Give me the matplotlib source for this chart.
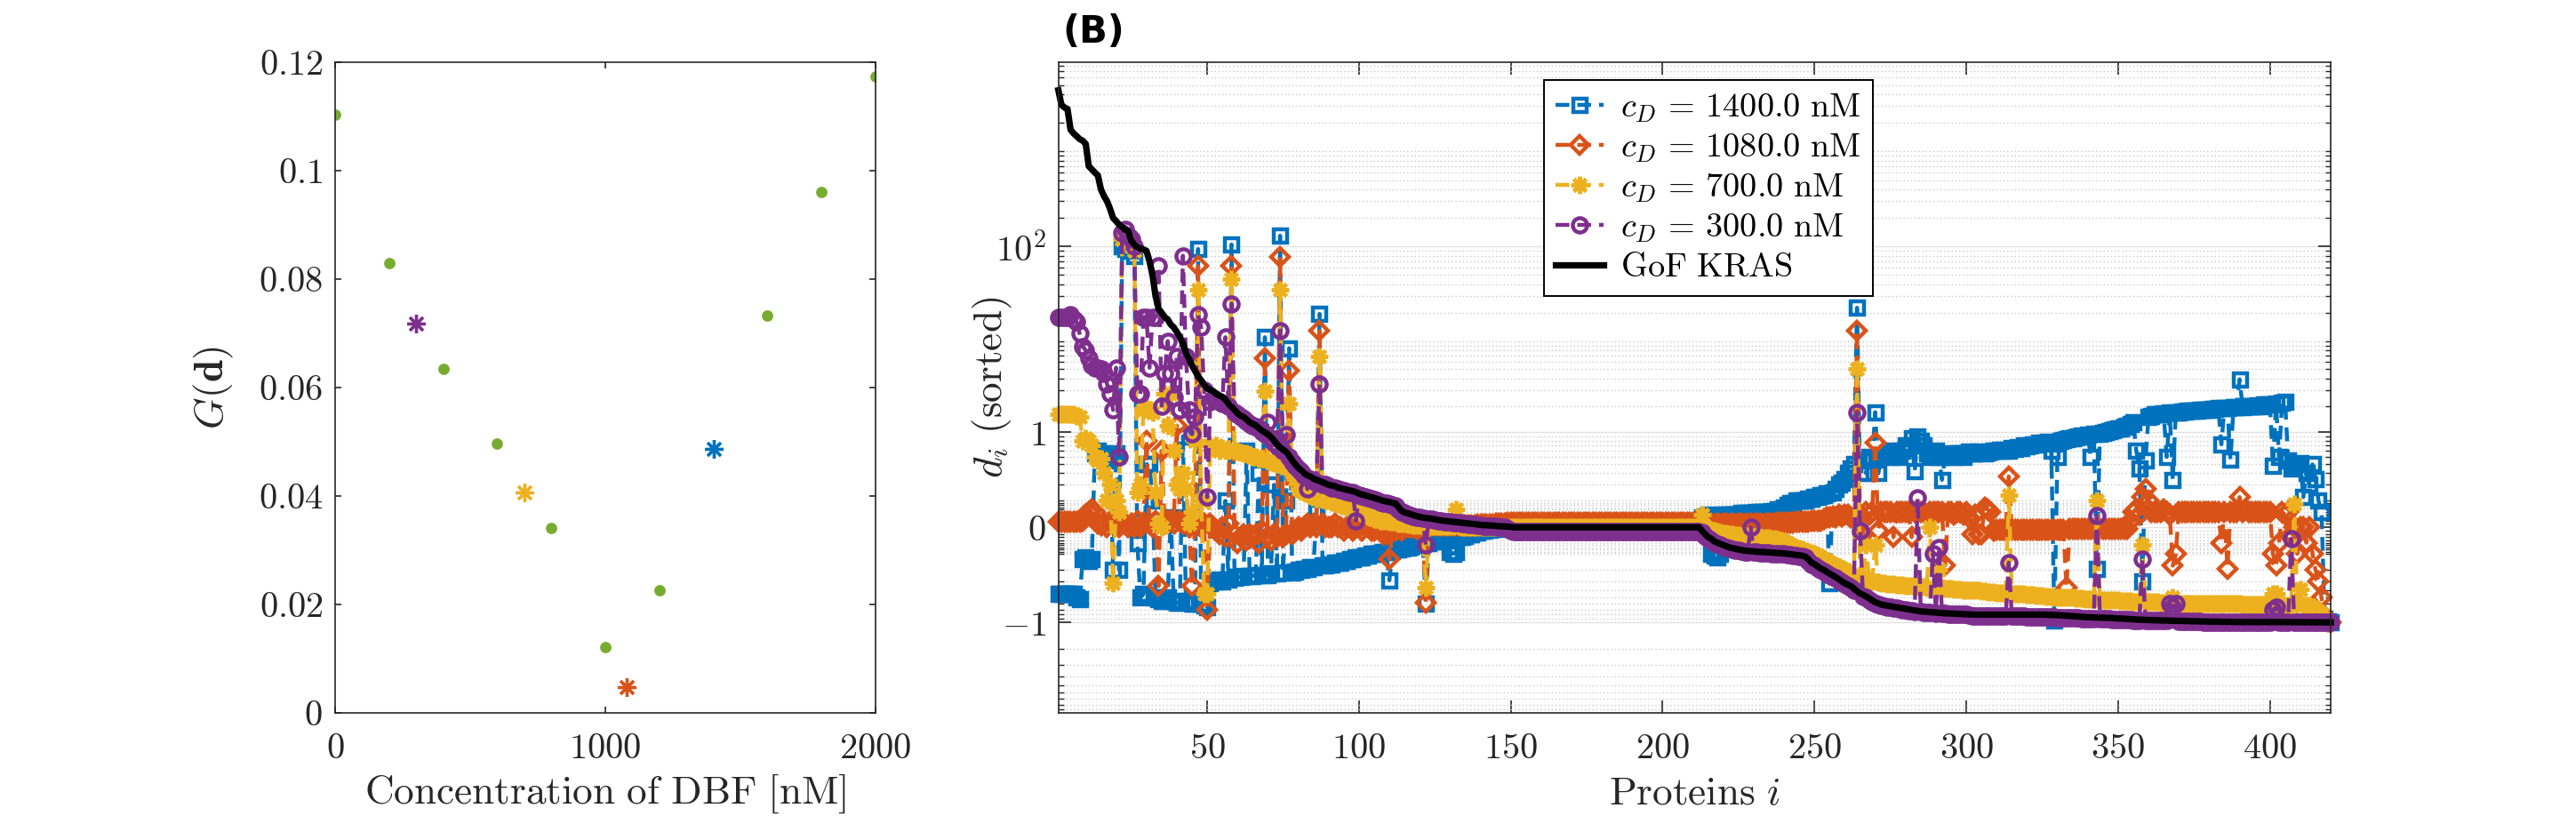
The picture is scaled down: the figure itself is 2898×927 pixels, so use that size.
import numpy as np
import matplotlib
matplotlib.use("Agg")
import matplotlib.pyplot as plt
from matplotlib.ticker import FixedLocator, NullFormatter

plt.rcParams['mathtext.fontset'] = 'cm'
plt.rcParams['font.family'] = ['DejaVu Serif']

# ---------------- data: panel A ----------------
conc_green = [0, 200, 400, 600, 800, 1000, 1200, 1600, 1800, 2000]
g_green = [0.1104, 0.0830, 0.0635, 0.0496, 0.0341, 0.0122, 0.0226, 0.0733, 0.0961, 0.1174]
conc_star = [300, 700, 1080, 1400]
g_star = [0.0718, 0.0407, 0.0048, 0.0487]

# ---------------- data: panel B ----------------
series_labels = ['1400.0', '1080.0', '700.0', '300.0']

gof_kras = [
 4400, 3100, 2900, 2800, 1700, 1550, 1450, 1350, 1300, 1200,
 700, 650, 600, 560, 400, 340, 300, 250, 200, 185,
 170, 160, 150, 145, 115, 105, 98, 95, 93, 90,
 70, 50, 30, 22, 20, 18, 17, 15, 14, 12.5,
 11, 9.5, 7.5, 6.5, 5.5, 4.8, 4.2, 3.8, 3.4, 3.1,
 3.0, 2.9, 2.7, 2.6, 2.5, 2.35, 2.1, 1.95, 1.8, 1.65,
 1.55, 1.5, 1.4, 1.3, 1.25, 1.2, 1.12, 1.05, 1.0, 0.95,
 0.88, 0.8, 0.72, 0.66, 0.62, 0.58, 0.52, 0.45, 0.4, 0.36,
 0.33, 0.3, 0.28, 0.27, 0.25, 0.24, 0.23, 0.22, 0.21, 0.2,
 0.195, 0.19, 0.18, 0.175, 0.17, 0.165, 0.16, 0.155, 0.15, 0.14,
 0.135, 0.13, 0.125, 0.12, 0.115, 0.11, 0.105, 0.1, 0.097, 0.094,
 0.09, 0.087, 0.07, 0.055, 0.048, 0.045, 0.042, 0.038, 0.035, 0.032,
 0.03, 0.028, 0.027, 0.026, 0.024, 0.022, 0.02, 0.019, 0.018, 0.017,
 0.016, 0.015, 0.014, 0.013, 0.012, 0.011, 0.01, 0.009, 0.008, 0.007,
 0.006, 0.006, 0.005, 0.005, 0.004, 0.003, 0.003, 0.002, 0.002, 0.001,
 0, 0, 0, 0, 0, 0, 0, 0, 0, 0,
 0, 0, 0, 0, 0, 0, 0, 0, 0, 0,
 0, 0, 0, 0, 0, 0, 0, 0, 0, 0,
 0, 0, 0, 0, 0, 0, 0, 0, 0, 0,
 0, 0, 0, 0, 0, 0, 0, 0, 0, 0,
 0, 0, 0, 0, 0, 0, 0, 0, 0, 0,
 0, 0, -0.01, -0.02, -0.03, -0.035, -0.045, -0.05, -0.055, -0.06,
 -0.065, -0.07, -0.073, -0.076, -0.079, -0.082, -0.084, -0.086, -0.087, -0.088,
 -0.09, -0.09, -0.091, -0.092, -0.093, -0.094, -0.095, -0.096, -0.097, -0.098,
 -0.1, -0.102, -0.104, -0.106, -0.108, -0.11, -0.115, -0.13, -0.15, -0.16,
 -0.175, -0.19, -0.2, -0.215, -0.23, -0.245, -0.26, -0.28, -0.3, -0.32,
 -0.335, -0.35, -0.38, -0.41, -0.44, -0.46, -0.48, -0.51, -0.54, -0.57,
 -0.59, -0.61, -0.62, -0.63, -0.64, -0.65, -0.66, -0.67, -0.68, -0.69,
 -0.7, -0.71, -0.72, -0.73, -0.74, -0.745, -0.75, -0.755, -0.76, -0.765,
 -0.77, -0.775, -0.78, -0.782, -0.785, -0.788, -0.79, -0.795, -0.8, -0.8,
 -0.805, -0.805, -0.81, -0.81, -0.81, -0.81, -0.81, -0.81, -0.81, -0.81,
 -0.81, -0.81, -0.81, -0.81, -0.81, -0.81, -0.81, -0.81, -0.81, -0.81,
 -0.81, -0.81, -0.81, -0.81, -0.81, -0.81, -0.815, -0.815, -0.82, -0.82,
 -0.825, -0.83, -0.835, -0.84, -0.845, -0.85, -0.855, -0.86, -0.865, -0.87,
 -0.87, -0.875, -0.875, -0.88, -0.88, -0.885, -0.885, -0.89, -0.895, -0.9,
 -0.9, -0.905, -0.91, -0.915, -0.92, -0.925, -0.93, -0.93, -0.935, -0.94,
 -0.94, -0.945, -0.945, -0.95, -0.95, -0.95, -0.955, -0.955, -0.96, -0.96,
 -0.96, -0.965, -0.965, -0.97, -0.97, -0.97, -0.975, -0.975, -0.975, -0.98,
 -0.98, -0.98, -0.98, -0.985, -0.985, -0.985, -0.985, -0.99, -0.99, -0.99,
 -0.99, -0.99, -0.99, -0.99, -0.99, -0.99, -0.99, -0.99, -0.99, -0.99,
 -0.99, -0.99, -0.992, -0.992, -0.993, -0.993, -0.994, -0.994, -0.995, -0.995,
 -0.995, -0.996, -0.996, -0.997, -0.997, -0.998, -0.998, -0.999, -1.0, -1.0,
]

d_300 = [
 18, 18, 18, 18, 19, 17, 16, 12, 8.8, 8,
 6.5, 5.5, 5.2, 5.2, 5, 4.5, 3.5, 2.7, 1.8, 5.2,
 0.5, 140, 150, 130, 120, 100, 2.7, 2.7, 18, 18,
 5.2, 18, 18, 62, 2, 4.5, 10, 4.5, 2.5, 6.8,
 1.8, 80, 6.8, 1.8, 0.95, 1.5, 19, 14, 3, 0.12,
 2.2, 2.4, 2.3, 2.2, 2.1, 11, 2, 25, 1.7, 1.6,
 1.5, 1.45, 1.35, 1.25, 1.2, 1.15, 1.1, 1.0, 0.95, 1.3,
 0.85, 0.75, 0.68, 13, 0.6, 0.94, 0.5, 0.43, 0.38, 0.34,
 0.31, 0.28, 0.17, 0.25, 0.23, 0.22, 3.5, 0.2, 0.2, 0.19,
 0.18, 0.18, 0.17, 0.165, 0.16, 0.155, 0.15, 0.145, 0.02, 0.13,
 0.125, 0.12, 0.115, 0.11, 0.105, 0.1, 0.095, 0.09, 0.087, 0.084,
 0.08, 0.075, 0.06, 0.05, 0.045, 0.04, 0.038, 0.035, 0.032, 0.03,
 0.028, -0.06, 0.025, 0.024, 0.022, 0.02, 0.018, 0.017, 0.016, 0.015,
 0.014, 0.013, 0.012, 0.011, 0.01, 0.009, 0.008, 0.007, 0.006, 0.005,
 0.004, 0.004, 0.003, 0.002, 0.002, 0.001, 0, 0, -0.005, -0.01,
 -0.012, -0.012, -0.012, -0.012, -0.012, -0.012, -0.012, -0.012, -0.012, -0.012,
 -0.012, -0.012, -0.012, -0.012, -0.012, -0.012, -0.012, -0.012, -0.012, -0.012,
 -0.012, -0.012, -0.012, -0.012, -0.012, -0.012, -0.012, -0.012, -0.012, -0.012,
 -0.012, -0.012, -0.012, -0.012, -0.012, -0.012, -0.012, -0.012, -0.012, -0.012,
 -0.012, -0.012, -0.012, -0.012, -0.012, -0.012, -0.012, -0.012, -0.012, -0.012,
 -0.012, -0.012, -0.012, -0.012, -0.012, -0.012, -0.012, -0.012, -0.012, -0.012,
 -0.012, -0.012, -0.015, -0.025, -0.035, -0.04, -0.05, -0.055, -0.06, -0.065,
 -0.07, -0.075, -0.078, -0.081, -0.084, -0.087, -0.089, -0.09, 0, -0.092,
 -0.093, -0.094, -0.095, -0.096, -0.097, -0.098, -0.099, -0.1, -0.101, -0.102,
 -0.104, -0.106, -0.108, -0.11, -0.112, -0.115, -0.12, -0.14, -0.16, -0.17,
 -0.185, -0.2, -0.21, -0.225, -0.24, -0.255, -0.27, -0.29, -0.31, -0.33,
 -0.35, -0.37, -0.4, 1.7, -0.01, -0.48, -0.5, -0.53, -0.56, -0.59,
 -0.61, -0.63, -0.64, -0.65, -0.66, -0.67, -0.68, -0.69, -0.7, -0.71,
 -0.72, -0.73, -0.74, 0.115, -0.75, -0.76, -0.765, -0.77, -0.1, -0.775,
 -0.07, -0.785, -0.79, -0.792, -0.795, -0.8, -0.8, -0.805, -0.81, -0.81,
 -0.83, -0.835, -0.84, -0.84, -0.84, -0.845, -0.845, -0.845, -0.85, -0.85,
 -0.85, -0.85, -0.85, -0.15, -0.85, -0.85, -0.85, -0.85, -0.85, -0.855,
 -0.855, -0.855, -0.86, -0.86, -0.86, -0.865, -0.865, -0.87, -0.87, -0.875,
 -0.875, -0.88, -0.88, -0.885, -0.885, -0.89, -0.89, -0.895, -0.9, -0.9,
 -0.905, -0.905, 0.037, -0.91, -0.91, -0.915, -0.915, -0.92, -0.92, -0.925,
 -0.925, -0.93, -0.93, -0.935, -0.94, -0.945, -0.95, -0.13, -0.95, -0.955,
 -0.95, -0.955, -0.955, -0.96, -0.96, -0.96, -0.6, -0.65, -0.6, -0.965,
 -0.97, -0.97, -0.975, -0.975, -0.98, -0.98, -0.98, -0.985, -0.985, -0.985,
 -0.99, -0.99, -0.99, -0.99, -0.99, -0.993, -0.993, -0.993, -0.993, -0.995,
 -0.995, -0.995, -0.995, -0.995, -0.995, -0.995, -0.995, -0.995, -0.995, -0.995,
 -0.7, -0.66, -0.995, -0.995, -0.995, -0.995, -0.035, -0.995, -0.995, -0.995,
 -0.997, -0.997, -0.997, -0.997, -0.998, -0.998, -0.998, -1.0, -1.0, -1.0,
]

d_1400 = [
 -0.44, -0.44, -0.44, -0.45, -0.45, -0.44, -0.5, -0.52, -0.13, -0.12,
 -0.14, -0.13, 0.56, 0.6, 0.5, 0.55, 0.5, 0.45, -0.2, 0.56,
 -0.2, 100, 95, 120, 90, 80, -0.05, -0.5, -0.45, 0.4,
 0.4, 0.1, -0.5, -0.52, -0.55, -0.55, -0.5, 0.03, -0.55, -0.58,
 -0.58, 0.9, -0.56, -0.55, -0.6, -0.6, 94, -0.6, -0.62, -0.65,
 -0.32, -0.3, -0.3, -0.28, -0.3, 0.1, -0.28, 105, -0.27, -0.26,
 -0.26, -0.25, 0.6, -0.25, -0.25, -0.24, 0.3, -0.24, 11, -0.24,
 -0.23, 0.2, -0.23, 130, -0.22, 0.1, 8.4, -0.22, -0.21, -0.2,
 -0.2, -0.19, -0.19, -0.18, -0.18, 0.05, 19.5, -0.17, -0.17, -0.16,
 -0.16, -0.15, -0.15, -0.15, -0.14, -0.14, -0.13, -0.13, -0.12, -0.12,
 -0.12, -0.11, -0.11, -0.1, -0.1, -0.1, -0.095, -0.09, -0.09, -0.29,
 -0.085, -0.08, -0.08, -0.075, -0.07, -0.07, -0.065, -0.06, -0.06, -0.055,
 -0.05, -0.6, -0.05, -0.045, -0.045, -0.04, -0.04, -0.035, -0.035, -0.09,
 -0.1, -0.09, -0.03, -0.03, -0.025, -0.02, -0.02, -0.015, -0.015, -0.01,
 -0.01, -0.008, -0.006, -0.005, -0.004, -0.003, -0.002, -0.001, 0, 0,
 0, 0, 0, 0, 0, 0, 0, 0, 0, 0,
 0, 0, 0, 0, 0, 0, 0, 0, 0, 0,
 0, 0, 0, 0, 0, 0, 0, 0, 0, 0,
 0, 0, 0, 0, 0, 0, 0, 0, 0, 0,
 0, 0, 0, 0, 0, 0, 0, 0, 0, 0,
 0, 0, 0, 0, 0, 0, 0, 0, 0, 0,
 0, 0.02, 0.03, 0.035, 0.04, -0.1, -0.11, -0.12, -0.1, 0.04,
 0.04, 0.04, 0.04, 0.04, 0.04, 0.045, 0.045, 0.045, 0.045, 0.045,
 0.05, 0.05, 0.05, 0.05, 0.05, 0.055, 0.055, 0.06, 0.06, 0.07,
 0.08, 0.09, 0.09, 0.1, 0.1, 0.1, 0.1, 0.11, 0.11, 0.12,
 0.12, 0.13, 0.13, 0.14, -0.32, 0.15, 0.17, 0.2, 0.22, 0.25,
 0.3, 0.35, 0.4, 22.6, 0.3, 0.45, 0.3, 0.5, 0.45, 1.7,
 0.3, 0.5, 0.52, 0.55, 0.5, 0.6, 0.55, 0.5, 0.6, 0.7,
 0.65, 0.85, 0.32, 0.9, 0.8, 0.7, 0.55, 0.5, 0.55, 0.6,
 0.5, 0.24, 0.5, 0.52, 0.55, 0.5, 0.55, 0.55, 0.5, 0.55,
 0.58, 0.55, 0.56, 0.58, 0.57, 0.55, 0.57, 0.58, 0.6, 0.6,
 0.62, 0.6, 0.62, 0.6, 0.65, 0.63, 0.66, 0.65, 0.7, 0.68,
 0.7, 0.72, 0.72, 0.75, 0.74, 0.76, 0.78, 0.6, -0.95, 0.5,
 0.8, 0.82, 0.84, 0.85, 0.86, 0.88, 0.9, 0.92, 0.9, 0.93,
 0.5, 0.95, -0.19, 0.97, 0.98, 1.0, 1.02, 1.05, 1.07, 1.1,
 1.12, 1.15, 1.2, 1.25, 1.3, 0.6, 0.35, -0.3, 0.45, 1.5,
 1.55, 1.6, 1.62, 1.6, 1.65, 0.5, 1.68, 0.24, 1.7, 1.7,
 1.72, 1.72, 1.75, 1.75, 1.78, 1.78, 1.8, 1.8, 1.82, 1.8,
 1.85, 1.85, 1.88, 0.72, 1.9, 1.9, 0.46, 1.92, 1.95, 3.9,
 1.95, 1.97, 1.98, 2.0, 2.0, 2.02, 2.0, 2.05, 2.05, 2.08,
 0.38, 2.1, 0.5, 2.15, 2.2, 0.45, 0.35, 0.38, 0.4, 0.42,
 0.12, 0.3, 0.2, 0.4, 0.25, 0.1, 0.05, -0.9, -0.98, -1.0,
]

d_1080 = [
 0.016, 0.016, 0.016, 0.016, 0.016, 0.016, 0.016, 0.016, 0.02, 0.04,
 0.05, 0.06, 0.05, 0.01, 0.005, 0.01, 0.0, 0.02, 0.01, 0.01,
 0.0, 0.02, 0.01, 0.0, 0.01, 0.0, 0.02, 0.0, 0.01, 0.8,
 0.01, 0.0, 0.02, -0.35, 0.6, 0.01, 0.02, 0.02, 0.01, 1.2,
 0.02, 0.01, 0.02, 0.0, -0.35, 0.01, 62, 0.0, 0.01, -0.7,
 0.01, 0.0, -0.01, -0.02, 0.0, -0.03, 0.01, 62, -0.02, -0.05,
 -0.03, -0.02, -0.04, -0.02, -0.03, -0.02, -0.05, -0.01, 6.6, -0.03,
 -0.04, -0.02, -0.03, 78, -0.03, -0.02, 4.8, -0.02, -0.01, 0.0,
 -0.01, 0.0, 0.01, 0.0, 0.01, 0.0, 12.8, 0.01, 0.0, 0.0,
 0.0, 0.01, 0.0, 0.0, -0.01, 0.0, 0.0, -0.01, 0.0, 0.0,
 -0.01, 0.0, 0.0, -0.01, -0.01, 0.0, -0.01, -0.02, -0.02, -0.13,
 -0.01, -0.01, 0.0, -0.01, 0.0, 0.0, 0.0, 0.0, -0.005, -0.005,
 0.0, -0.58, 0.0, 0.005, 0.005, 0.005, 0.005, 0.005, 0.005, 0.005,
 0.005, 0.005, 0.005, 0.005, 0.006, 0.006, 0.006, 0.006, 0.007, 0.007,
 0.008, 0.008, 0.009, 0.009, 0.01, 0.01, 0.011, 0.011, 0.012, 0.012,
 0.012, 0.012, 0.012, 0.012, 0.012, 0.012, 0.012, 0.012, 0.012, 0.012,
 0.012, 0.012, 0.012, 0.012, 0.012, 0.012, 0.012, 0.012, 0.012, 0.012,
 0.012, 0.012, 0.012, 0.012, 0.012, 0.012, 0.012, 0.012, 0.012, 0.012,
 0.012, 0.012, 0.012, 0.012, 0.012, 0.012, 0.012, 0.012, 0.012, 0.012,
 0.012, 0.012, 0.012, 0.012, 0.012, 0.012, 0.012, 0.012, 0.012, 0.012,
 0.012, 0.012, 0.012, 0.012, 0.012, 0.012, 0.012, 0.012, 0.012, 0.012,
 0.012, 0.012, 0.01, 0.01, 0.008, 0.01, 0.008, 0.01, 0.008, 0.01,
 0.01, 0.009, 0.01, 0.008, 0.01, 0.01, 0.009, 0.01, 0.01, 0.008,
 0.01, 0.01, 0.009, 0.01, 0.01, 0.011, 0.01, 0.012, 0.012, 0.013,
 0.013, 0.014, 0.014, 0.015, 0.015, 0.016, 0.016, 0.017, 0.018, 0.019,
 0.02, 0.02, 0.025, 0.03, 0.03, 0.035, 0.03, 0.04, 0.035, 0.04,
 0.04, 0.03, 0.03, 12.9, 0.04, -0.02, 0.05, 0.04, 0.05, 0.75,
 -0.01, 0.05, 0.05, 0.05, 0.05, -0.03, 0.05, 0.05, 0.05, 0.05,
 0.05, -0.03, 0.05, 0.05, 0.05, 0.05, 0.04, 0.05, 0.05, 0.05,
 0.05, 0.05, -0.17, 0.05, 0.05, 0.04, 0.05, 0.05, 0.04, 0.05,
 0.03, -0.02, 0.04, -0.02, -0.02, 0.07, 0.06, 0.05, -0.01, -0.007,
 -0.007, -0.007, -0.007, 0.27, -0.007, -0.007, -0.007, -0.007, -0.007, -0.007,
 -0.007, -0.007, -0.007, -0.007, -0.007, -0.007, -0.007, -0.007, -0.007, -0.007,
 -0.007, -0.007, -0.37, -0.005, -0.005, -0.005, -0.005, -0.005, -0.005, -0.005,
 -0.005, -0.005, -0.005, -0.005, -0.005, -0.005, -0.005, -0.005, -0.005, -0.005,
 -0.005, -0.005, -0.005, 0.02, 0.05, 0.06, 0.04, 0.12, 0.17, 0.1,
 0.05, 0.05, 0.05, 0.05, 0.06, 0.05, 0.04, -0.17, -0.1, 0.05,
 0.05, 0.05, 0.05, 0.05, 0.05, 0.05, 0.05, 0.05, 0.05, 0.05,
 0.05, 0.05, 0.05, -0.05, 0.05, -0.19, 0.05, 0.05, 0.05, 0.12,
 0.05, 0.06, 0.05, 0.05, 0.05, 0.05, 0.05, 0.05, 0.05, 0.05,
 -0.1, -0.17, -0.05, 0.05, 0.04, 0.05, -0.02, 0.0, -0.1, 0.0,
 0.0, -0.05, 0.0, -0.1, -0.2, -0.3, -0.5, -0.84, -0.98, -1.0,
]

d_700 = [
 1.6, 1.6, 1.6, 1.6, 1.6, 1.6, 1.55, 1.5, 0.8, 0.85,
 0.8, 0.7, 0.5, 0.45, 0.48, 0.3, 0.1, 0.2, -0.32, 0.1,
 0.05, 120, 130, 110, 100, 90, 0.15, 0.2, 1.8, 1.9,
 1.8, 1.7, 0.15, 0.01, 0.0, 2.7, 1.2, 2.7, 0.6, 0.2,
 0.17, 0.3, 0.17, 0.01, 0.05, 0.8, 35, 0.1, -0.45, -0.45,
 0.7, 0.65, 0.7, 0.6, 0.65, 0.6, 0.6, 45, 0.6, 0.58,
 0.57, 0.55, 0.55, 0.53, 0.5, 0.5, 0.48, 0.47, 2.9, 0.45,
 0.43, 0.42, 0.4, 35, 0.38, 0.36, 2.1, 0.3, 0.25, 0.17,
 0.16, 0.15, 0.14, 0.13, 0.12, 0.11, 6.8, 0.105, 0.1, 0.1,
 0.095, 0.09, 0.085, 0.08, 0.075, 0.07, 0.065, 0.06, 0.055, 0.05,
 0.045, 0.04, 0.035, 0.03, 0.025, 0.025, 0.02, 0.02, 0.02, 0.015,
 0.015, 0.015, 0.01, 0.01, 0.01, 0.008, 0.008, 0.006, 0.006, 0.005,
 0.005, -0.37, 0.005, 0.004, 0.004, 0.003, 0.003, 0.003, 0.002, 0.002,
 0.002, 0.06, 0.002, 0.001, 0.001, 0.001, 0, 0, 0, 0,
 0, 0, 0, 0, 0, 0, 0, 0, 0, 0,
 0, 0, 0, 0, 0, 0, 0, 0, 0, 0,
 0, 0, 0, 0, 0, 0, 0, 0, 0, 0,
 0, 0, 0, 0, 0, 0, 0, 0, 0, 0,
 0, 0, 0, 0, 0, 0, 0, 0, 0, 0,
 0, 0, 0, 0, 0, 0, 0, 0, 0, 0,
 0, 0, 0, 0, 0, 0, 0, 0, 0, 0,
 0, 0, 0.04, 0.0, -0.005, -0.01, -0.01, -0.012, -0.014, -0.016,
 -0.018, -0.02, -0.02, -0.022, -0.024, -0.025, -0.026, -0.027, -0.028, -0.029,
 -0.03, -0.03, -0.031, -0.032, -0.033, -0.034, -0.035, -0.037, -0.04, -0.045,
 -0.05, -0.06, -0.065, -0.07, -0.075, -0.08, -0.085, -0.09, -0.095, -0.1,
 -0.11, -0.12, -0.13, -0.14, -0.15, -0.16, -0.17, -0.18, -0.19, -0.2,
 -0.22, -0.24, -0.26, 5.1, -0.27, -0.28, -0.06, -0.29, -0.3, -0.06,
 -0.31, -0.32, -0.32, -0.33, -0.33, -0.33, -0.34, -0.34, -0.34, -0.35,
 -0.35, -0.35, -0.35, -0.36, -0.36, -0.36, -0.37, 0.0, -0.37, -0.37,
 -0.2, -0.37, -0.38, -0.38, -0.38, -0.39, -0.39, -0.39, -0.4, -0.4,
 -0.4, -0.4, -0.4, -0.4, -0.41, -0.41, -0.42, -0.42, -0.42, -0.43,
 -0.43, -0.43, -0.44, 0.13, -0.44, -0.44, -0.45, -0.45, -0.45, -0.46,
 -0.46, -0.46, -0.47, -0.47, -0.47, -0.48, -0.48, -0.48, -0.49, -0.49,
 -0.49, -0.5, -0.5, -0.5, -0.5, -0.51, -0.51, -0.51, -0.52, -0.52,
 -0.52, -0.52, 0.1, -0.53, -0.53, -0.53, -0.54, -0.54, -0.54, -0.54,
 -0.55, -0.55, -0.55, -0.55, -0.56, -0.56, -0.56, -0.06, -0.56, -0.57,
 -0.57, -0.57, -0.57, -0.58, -0.58, -0.58, -0.58, -0.5, -0.59, -0.59,
 -0.59, -0.59, -0.6, -0.6, -0.6, -0.6, -0.6, -0.6, -0.6, -0.6,
 -0.6, -0.6, -0.6, -0.6, -0.6, -0.6, -0.6, -0.6, -0.6, -0.6,
 -0.61, -0.61, -0.61, -0.61, -0.61, -0.61, -0.61, -0.61, -0.61, -0.61,
 -0.45, -0.45, -0.62, -0.62, -0.62, -0.62, -0.62, 0.085, -0.62, -0.39,
 -0.63, -0.63, -0.63, -0.65, -0.7, -0.75, -0.8, -0.9, -0.98, -1.0,
]

for _name, _arr in [('gof', gof_kras), ('300', d_300), ('1400', d_1400),
                    ('1080', d_1080), ('700', d_700)]:
    if len(_arr) != 420:
        print('length mismatch', _name, len(_arr))

proteins = np.arange(1, 421)

# ---------------- style ----------------
C_BLUE = '#0072BD'
C_ORANGE = '#D95319'
C_YELLOW = '#EDB120'
C_PURPLE = '#7E2F8E'
C_GREEN = '#77AC30'
AX_COL = '#262626'
TICK_FS = 14.5
LABEL_FS = 16.3


def fwd(d):
    d = np.asarray(d, dtype=float)
    return np.sign(d) * np.log10(1.0 + 9.0 * np.abs(d))


def inv(y):
    y = np.asarray(y, dtype=float)
    return np.sign(y) * (10.0 ** np.abs(y) - 1.0) / 9.0


W, H = 2898, 927
fig = plt.figure(figsize=(W / 200, H / 200), dpi=200)

# ---------------- panel A ----------------
ax1 = fig.add_axes([377 / W, 1 - 802 / H, 608 / W, 732 / H])
ax1.plot(conc_green, g_green, linestyle='none', marker='o', ms=4.6,
         color=C_GREEN, mec='none')
for xc, yc, cc in zip(conc_star, g_star, [C_PURPLE, C_YELLOW, C_ORANGE, C_BLUE]):
    ax1.plot([xc], [yc], linestyle='none', marker=(8, 2, 0), ms=7.5, mew=1.2,
             color=cc)
ax1.set_xlim(0, 2000)
ax1.set_ylim(0, 0.12)
ax1.set_xticks([0, 1000, 2000])
ax1.set_xticklabels([r'$0$', r'$1000$', r'$2000$'])
ax1.set_yticks([0, 0.02, 0.04, 0.06, 0.08, 0.1, 0.12])
ax1.set_yticklabels([r'$0$', r'$0.02$', r'$0.04$', r'$0.06$', r'$0.08$',
                     r'$0.1$', r'$0.12$'])
ax1.set_xlabel(r'$\mathrm{Concentration\ of\ DBF\ [nM]}$', fontsize=LABEL_FS,
               color=AX_COL)
ax1.set_ylabel(r'$G(\mathbf{d})$', fontsize=LABEL_FS, color=AX_COL)
ax1.xaxis.set_label_coords(0.5, -0.124)
ax1.xaxis.label.set_va('center')
ax1.yaxis.set_label_coords(-0.225, 0.5)
ax1.yaxis.label.set_va('center')
ax1.tick_params(direction='in', top=True, right=True, length=2.6, width=0.6,
                labelsize=TICK_FS, colors=AX_COL)
ax1.tick_params(axis='x', pad=8)
ax1.tick_params(axis='y', pad=5)
for sp in ax1.spines.values():
    sp.set_linewidth(0.6)
    sp.set_color(AX_COL)

# ---------------- panel B ----------------
ax2 = fig.add_axes([1190.7 / W, 1 - 802 / H, (2622 - 1190.7) / W, 732 / H])
ax2.set_yscale('function', functions=(fwd, inv))

common = dict(lw=1.6, mfc='none', mew=1.6, clip_on=False, linestyle='--',
              dashes=(3.5, 2.0))
ax2.plot(proteins, d_1400, color=C_BLUE, marker='s', ms=5.4,
         label=r'$c_D\,=\,%s\ \mathrm{nM}$' % series_labels[0], **common)
ax2.plot(proteins, d_1080, color=C_ORANGE, marker='D', ms=5.2,
         label=r'$c_D\,=\,%s\ \mathrm{nM}$' % series_labels[1], **common)
ax2.plot(proteins, d_700, color=C_YELLOW, marker=(8, 2, 0), ms=7.0,
         label=r'$c_D\,=\,%s\ \mathrm{nM}$' % series_labels[2], **common)
ax2.plot(proteins, d_300, color=C_PURPLE, marker='o', ms=5.8,
         label=r'$c_D\,=\,%s\ \mathrm{nM}$' % series_labels[3], **common)
ax2.plot(proteins, gof_kras, color='black', lw=2.6, clip_on=False,
         label=r'$\mathrm{GoF\ KRAS}$')

ax2.set_xlim(1, 420)
ax2.set_ylim(-9.84, 8690)
ax2.set_xticks([50, 100, 150, 200, 250, 300, 350, 400])
ax2.set_xticklabels([r'$%d$' % v for v in [50, 100, 150, 200, 250, 300, 350, 400]])
ax2.set_yticks([-1, 0, 1, 100])
ax2.set_yticklabels([r'$-1$', r'$0$', r'$1$', r'$10^2$'])

minor_vals = []
for p in [-2, -1, 0, 1, 2, 3]:
    for k in range(1, 10):
        v = k * 10.0 ** p
        if v in (1.0, 100.0) or v > 8690:
            continue
        minor_vals.append(v)
        if v <= 9.84:
            minor_vals.append(-v)
ax2.yaxis.set_minor_locator(FixedLocator(sorted(minor_vals)))
ax2.yaxis.set_minor_formatter(NullFormatter())

ax2.yaxis.grid(True, which='minor', linestyle=(0, (1, 2)), color='#c8c8c8',
               linewidth=0.5)
ax2.yaxis.grid(True, which='major', linestyle='-', color='#e2e2e2',
               linewidth=0.5)
ax2.set_axisbelow(True)

ax2.tick_params(direction='in', top=True, right=True, length=5, width=0.6,
                labelsize=TICK_FS, colors=AX_COL)
ax2.tick_params(which='minor', direction='in', left=True, right=True,
                length=2.2, width=0.5, colors=AX_COL)
ax2.tick_params(axis='x', pad=8)
ax2.tick_params(axis='y', pad=5)
for sp in ax2.spines.values():
    sp.set_linewidth(0.6)
    sp.set_color(AX_COL)

ax2.set_xlabel(r'$\mathrm{Proteins}\ i$', fontsize=LABEL_FS, color=AX_COL)
ax2.set_ylabel(r'$d_i\ \mathrm{(sorted)}$', fontsize=LABEL_FS, color=AX_COL)
ax2.xaxis.set_label_coords(0.5, -0.124)
ax2.xaxis.label.set_va('center')
ax2.yaxis.set_label_coords(-0.052, 0.5)
ax2.yaxis.label.set_va('center')

leg = ax2.legend(loc='upper left', bbox_to_anchor=(0.3815, 0.9727),
                 borderaxespad=0, fontsize=13.8, frameon=True, fancybox=False,
                 framealpha=1, edgecolor='black', handlelength=1.4,
                 handletextpad=0.5, labelspacing=0.22, borderpad=0.35)
leg.get_frame().set_linewidth(0.7)

fig.text(1195 / W, 1 - 36 / H, '(B)', fontsize=15, fontweight='bold',
         family='DejaVu Sans', ha='left', va='center', color='black')

fig.savefig('out.png', dpi=200, facecolor='white')
